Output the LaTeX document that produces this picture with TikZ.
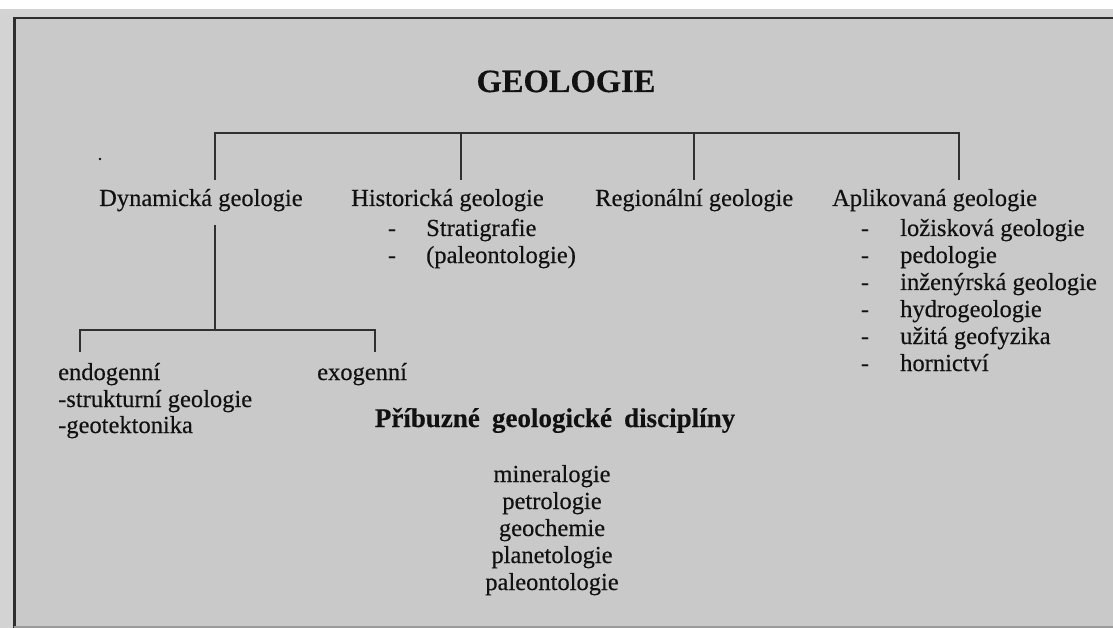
\documentclass[tikz,border=0pt]{standalone}
\usepackage{fontspec}
\setmainfont{Liberation Serif}[FakeBold=0.35]
\definecolor{outergray}{HTML}{D3D3D3}
\definecolor{innergray}{HTML}{C9C9C9}
\definecolor{framecol}{HTML}{2E2E2E}
\definecolor{bottomcol}{HTML}{9A9A9A}
\definecolor{linecol}{HTML}{303030}
\definecolor{textcol}{HTML}{111111}
\begin{document}
\begin{tikzpicture}[x=1pt,y=-1pt,
  txt/.style={inner sep=0pt, anchor=base west, text=textcol, font=\fontsize{24.5}{27}\selectfont},
  ctr/.style={inner sep=0pt, anchor=base, text=textcol, font=\fontsize{24.5}{27}\selectfont},
  conn/.style={draw=linecol, line width=1.8pt},
]
\useasboundingbox (0,0) rectangle (1113,628);
\fill[white] (0,0) rectangle (1113,628);
\fill[outergray] (0,9) rectangle (1113,628);
\fill[innergray] (14,17) rectangle (1113,626);
\draw[framecol, line width=2.5pt] (14.5,628) -- (14.5,18) -- (1113,18);
\draw[bottomcol, line width=1.5pt] (14,627) -- (1113,627);

% title
\node[inner sep=0pt, anchor=base, text=textcol, font=\fontsize{32.5}{35}\selectfont\bfseries] (geo) at (566,92) {GEOLOGIE};

% small dot
\fill[textcol] (100,159) circle (1.3);

% level 1
\node[txt] (dyn) at (99,206) {Dynamická geologie};
\node[txt] (his) at (351,206) {Historická geologie};
\node[ctr] (h1d) at (392,236) {-};
\node[txt] (h1) at (426,236) {Stratigrafie};
\node[ctr] (h2d) at (392,263) {-};
\node[txt] (h2) at (426,263) {(paleontologie)};
\node[txt] (reg) at (595,206) {Regionální geologie};
\node[txt] (apl) at (832,206) {Aplikovaná geologie};
\node[ctr] (a1d) at (865,236) {-};
\node[txt] (a1) at (900,236) {ložisková geologie};
\node[ctr] (a2d) at (865,263) {-};
\node[txt] (a2) at (900,263) {pedologie};
\node[ctr] (a3d) at (865,290) {-};
\node[txt] (a3) at (900,290) {inženýrská geologie};
\node[ctr] (a4d) at (865,317) {-};
\node[txt] (a4) at (900,317) {hydrogeologie};
\node[ctr] (a5d) at (865,344) {-};
\node[txt] (a5) at (900,344) {užitá geofyzika};
\node[ctr] (a6d) at (865,371) {-};
\node[txt] (a6) at (900,371) {hornictví};

% dynamic subtree
\node[txt] (endo) at (58,380) {endogenní};
\node[txt] (endo1) at (58,407) {-strukturní geologie};
\node[txt] (endo2) at (58,433) {-geotektonika};
\node[txt] (exo) at (317,380) {exogenní};

% related disciplines
\node[inner sep=0pt, anchor=base, text=textcol, font=\fontsize{27}{30}\selectfont\bfseries] (pri) at (555,427) {Příbuzné\hspace{0.45em}geologické\hspace{0.45em}disciplíny};
\node[ctr] (m1) at (552,482) {mineralogie};
\node[ctr] (m2) at (552,509) {petrologie};
\node[ctr] (m3) at (552,536) {geochemie};
\node[ctr] (m4) at (552,563) {planetologie};
\node[ctr] (m5) at (552,590) {paleontologie};

% connectors
\coordinate (bL) at (215,133);
\coordinate (bR) at (959,133);
\coordinate (t1) at (215,180);
\coordinate (t2) at (461,180);
\coordinate (t3) at (694,180);
\coordinate (t4) at (959,180);
\draw[conn] (t1) -- (bL) -- (bR) -- (t4);
\draw[conn] (t2) -- (t2 |- bL);
\draw[conn] (t3) -- (t3 |- bL);

\coordinate (d0) at (215,225);
\coordinate (d1) at (215,330);
\coordinate (eL) at (80,352);
\coordinate (eR) at (375,352);
\draw[conn] (d0) -- (d1);
\draw[conn] (eL) |- (d1) -| (eR);
\end{tikzpicture}
\end{document}
